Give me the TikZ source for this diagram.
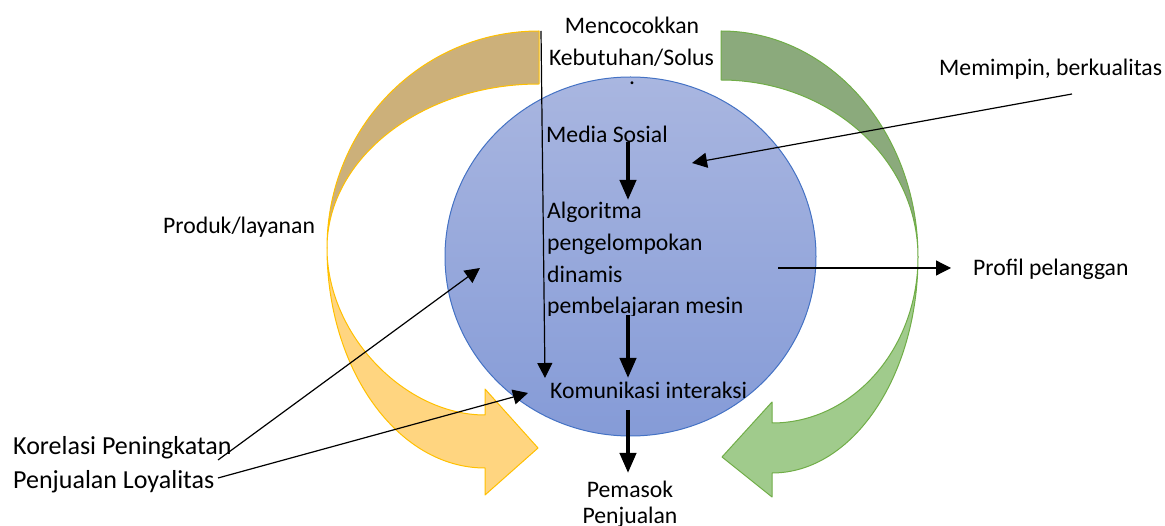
\documentclass[tikz,border=0pt]{standalone}
\usepackage{fontspec}
\setmainfont{Carlito}
\usetikzlibrary{arrows.meta,shapes.geometric}
\definecolor{tanband}{RGB}{204,176,122}
\definecolor{goldband}{RGB}{255,213,128}
\definecolor{goldedge}{RGB}{255,192,0}
\definecolor{greendark}{RGB}{139,170,124}
\definecolor{greenlight}{RGB}{160,203,140}
\definecolor{greenedge}{RGB}{112,173,71}
\definecolor{blueedge}{RGB}{68,114,196}
\definecolor{bluetop}{RGB}{169,182,224}
\definecolor{bluebot}{RGB}{133,155,215}

\begin{document}
\begin{tikzpicture}[x=1pt,y=-1pt,
  lbl/.style={inner sep=0pt, font=\fontsize{23.7}{28}\selectfont},
  biglbl/.style={inner sep=0pt, font=\fontsize{26}{31}\selectfont},
  thinarrow/.style={line width=1.2pt, -{Triangle[length=15pt,width=15pt]}},
  flowarrow/.style={line width=4pt, -{Triangle[length=20pt,width=16pt]}},
  band/.style={line width=1pt, line join=round},
]
\useasboundingbox (0,0) rectangle (1165,526);

% left curved band: shaded back part, then the front part with its head
\filldraw[band, fill=tanband, draw=goldedge]
  (539,31) .. controls (421.9,31) and (327,126.8) .. (327,248)
  .. controls (327,158.3) and (421.9,84) .. (539,84) -- cycle;
\filldraw[band, fill=goldband, draw=goldedge]
  (327,248) .. controls (327,369.5) and (397.7,468) .. (485,468)
  -- (485,495) -- (538,448) -- (485,389) -- (485,415)
  .. controls (405,415) and (327,335) .. (327,248) -- cycle;

% right curved band
\filldraw[band, fill=greendark, draw=greenedge]
  (721,31) .. controls (829.8,31) and (918,132.2) .. (918,257)
  .. controls (918,159.2) and (829.8,80) .. (721,80) -- cycle;
\filldraw[band, fill=greenlight, draw=greenedge]
  (918,257) .. controls (918,376.3) and (852.6,473) .. (772,473)
  -- (772,497) -- (722,457) -- (772,402) -- (772,423)
  .. controls (852.6,423) and (918,348.7) .. (918,257) -- cycle;

% central hub
\node[ellipse, draw=blueedge, line width=1pt, top color=bluetop, bottom color=bluebot,
      minimum width=371pt, minimum height=359pt, inner sep=0pt] (hub) at (630.5,256.5) {};

% labels
\node[lbl, anchor=base] (match1) at (632,34) {Mencocokkan};
\node[lbl, anchor=base] (match2) at (631.5,66) {Kebutuhan/Solus};
\node[lbl, anchor=base] (dot) at (632,85) {.};
\node[lbl, anchor=base west] (media) at (546,143) {Media Sosial};
\node[lbl, anchor=base west] (algo1) at (547,219) {Algoritma};
\node[lbl, anchor=base west] (algo2) at (547,251) {pengelompokan};
\node[lbl, anchor=base west] (algo3) at (547,283) {dinamis};
\begin{scope}
  \clip (540,290) rectangle (760,316);
  \node[lbl, anchor=base west] (algo4) at (547,314) {pembelajaran mesin};
\end{scope}
\node[lbl, anchor=base west] (komu) at (550,399) {Komunikasi interaksi};
\node[lbl, anchor=base] (sup1) at (630,497) {Pemasok};
\node[lbl, anchor=base] (sup2) at (630,523) {Penjualan};
\node[lbl, anchor=base west] (prod) at (163,234) {Produk/layanan};
\node[lbl, anchor=base west] (lead) at (939,76) {Memimpin, berkualitas};
\node[lbl, anchor=base west] (prof) at (973,276) {Profil pelanggan};
\node[biglbl, anchor=base west] (kor1) at (13,454) {Korelasi Peningkatan};
\node[biglbl, anchor=base west] (kor2) at (13,488) {Penjualan Loyalitas};

% connector end points
\coordinate (top-start) at (541,31);
\coordinate (komu-left) at (545,378);
\coordinate (media-out) at (628,142);
\coordinate (algo-in) at (628,200);
\coordinate (algo-out) at (628,315);
\coordinate (komu-in) at (628,378);
\coordinate (komu-out) at (628,410);
\coordinate (sup-in) at (628,473);
\coordinate (lead-out) at (1072,94);
\coordinate (lead-in) at (692,163);
\coordinate (prof-out) at (778,268);
\coordinate (prof-in) at (951,268);
\coordinate (kor1-out) at (218,460);
\coordinate (hub-left) at (480,268);
\coordinate (kor2-out) at (218,478);
\coordinate (komu-low) at (528,393);

% connectors
\draw[thinarrow] (top-start) -- (komu-left);
\draw[flowarrow] (media-out) -- (algo-in);
\draw[flowarrow] (algo-out) -- (komu-in);
\draw[flowarrow] (komu-out) -- (sup-in);
\draw[thinarrow] (lead-out) -- (lead-in);
\draw[thinarrow] (prof-out) -- (prof-in);
\draw[thinarrow] (kor1-out) -- (hub-left);
\draw[thinarrow] (kor2-out) -- (komu-low);
\end{tikzpicture}
\end{document}
